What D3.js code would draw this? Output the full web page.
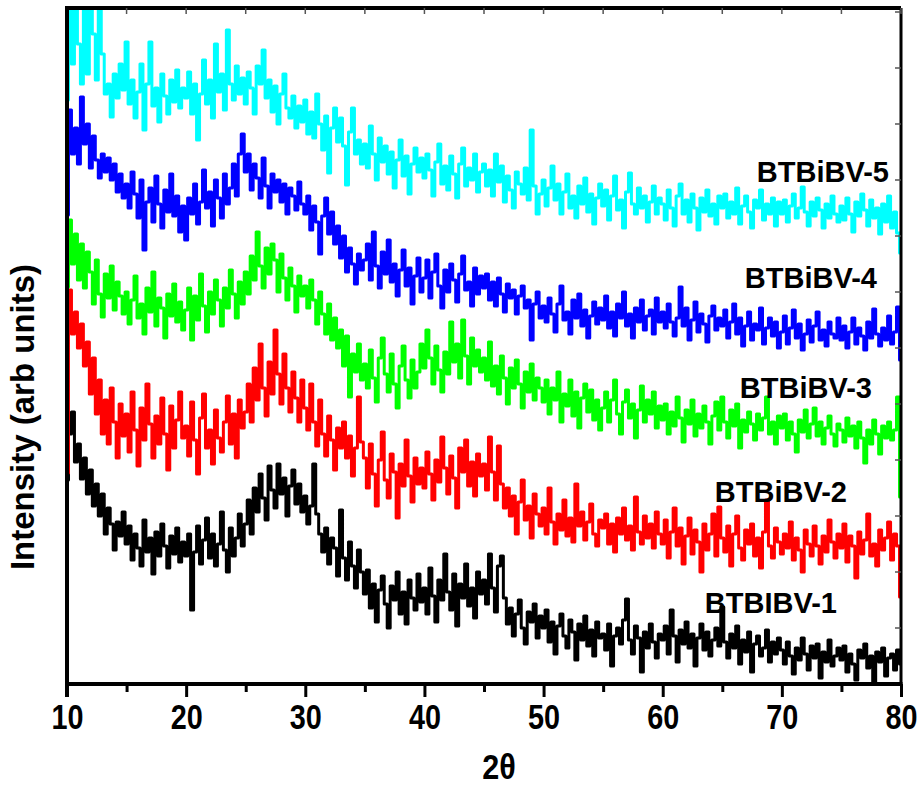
<!DOCTYPE html>
<html>
<head>
<meta charset="utf-8">
<script src="https://cdn.jsdelivr.net/npm/d3@7"></script>
<style>
    body { margin: 0; background: #fff; }
    .tick-label { font-family: "Liberation Sans", Arial, sans-serif; font-weight: bold; font-size: 36px; }
    .axis-title { font-family: "Liberation Sans", Arial, sans-serif; font-weight: bold; }
    .sample-label { font-family: "Liberation Sans", Arial, sans-serif; font-weight: bold; font-size: 29px; }
</style>
</head>
<body>
<div class="xrd-chart"></div>
<script>

// 2-theta grid: first angle and step (degrees)
var angleStart = 10;
var angleStep = 0.25;

// intensities (arb. units), one row per 5 degrees
var btbibv1 = [
    204, 250, 272, 222, 240, 205, 226, 190, 214, 178, 200, 168, 190, 150, 176, 160, 134, 162, 148, 172,
    140, 158, 124, 150, 136, 118, 164, 132, 146, 110, 152, 128, 160, 138, 116, 148, 130, 156, 122, 142,
    128, 150, 74, 132, 158, 120, 144, 166, 126, 150, 118, 140, 172, 134, 112, 156, 128, 146, 170, 138,
    160, 184, 150, 196, 172, 210, 186, 164, 218, 194, 176, 220, 190, 206, 168, 198, 214, 180, 200, 172,
    188, 160, 178, 220, 170, 150, 132, 156, 120, 146, 136, 108, 174, 126, 104, 142, 118, 96, 134, 112,
    90, 114, 76, 100, 62, 94, 108, 80, 56, 98, 84, 112, 70, 92, 60, 104, 86, 74, 110, 82,
    96, 70, 116, 88, 62, 104, 84, 130, 92, 74, 110, 58, 100, 86, 120, 78, 96, 66, 112, 90,
    104, 80, 130, 96, 72, 118, 128, 86, 60, 76, 48, 70, 84, 56, 40, 72, 62, 80, 46, 68,
    56, 74, 42, 62, 30, 58, 70, 48, 36, 64, 52, 24, 60, 44, 68, 38, 54, 28, 62, 46,
    50, 34, 60, 18, 48, 56, 40, 64, 85, 44, 30, 58, 46, 12, 52, 36, 60, 42, 26, 50,
    44, 58, 30, 74, 48, 22, 54, 40, 62, 36, 50, 18, 46, 60, 34, 52, 28, 44, 56, 38,
    77, 42, 26, 50, 36, 58, 20, 44, 32, 52, 12, 40, 48, 28, 36, 54, 22, 42, 30, 46,
    34, 20, 42, 28, 10, 36, 24, 46, 30, 14, 38, 26, 40, 6, 32, 22, 44, 18, 28, 36,
    24, 38, 12, 30, 20, 4, 34, 26, 40, 16, 28, 2, 32, 22, 36, 8, 26, 30, 14, 34,
    20
];

var btbibv2 = [
    211, 394, 350, 372, 336, 360, 318, 342, 290, 326, 270, 304, 250, 284, 240, 296, 262, 226, 280, 248,
    270, 232, 292, 254, 218, 276, 244, 300, 260, 226, 268, 240, 286, 250, 214, 278, 236, 264, 292, 246,
    258, 228, 282, 244, 210, 266, 290, 236, 254, 220, 274, 246, 232, 262, 288, 240, 270, 226, 284, 256,
    272, 300, 262, 316, 284, 340, 296, 268, 322, 290, 354, 310, 280, 330, 296, 272, 312, 286, 262, 304,
    276, 254, 300, 262, 238, 284, 250, 228, 268, 244, 214, 256, 236, 262, 226, 248, 208, 236, 287, 242,
    226, 196, 240, 210, 178, 224, 252, 204, 186, 230, 212, 166, 220, 198, 244, 208, 182, 226, 200, 216,
    196, 232, 210, 184, 224, 202, 247, 216, 190, 228, 206, 176, 236, 212, 244, 198, 222, 188, 230, 208,
    220, 194, 247, 212, 184, 238, 200, 176, 196, 168, 188, 150, 182, 204, 164, 178, 146, 190, 170, 158,
    176, 150, 196, 162, 140, 170, 154, 184, 148, 166, 142, 200, 158, 172, 144, 162, 180, 150, 138, 164,
    156, 170, 140, 160, 132, 166, 150, 176, 144, 158, 134, 187, 152, 140, 168, 146, 160, 136, 172, 150,
    140, 164, 126, 152, 176, 138, 156, 120, 148, 166, 130, 154, 142, 112, 160, 134, 150, 170, 128, 177,
    146, 132, 158, 118, 150, 168, 136, 124, 154, 140, 160, 128, 146, 116, 152, 184, 138, 126, 156, 142,
    130, 150, 136, 162, 124, 146, 134, 112, 154, 140, 128, 158, 138, 120, 148, 132, 164, 142, 126, 150,
    136, 160, 122, 148, 138, 106, 152, 130, 144, 170, 128, 140, 118, 154, 134, 146, 162, 124, 150, 138,
    87
];

var btbibv3 = [
    397, 464, 420, 450, 404, 440, 396, 432, 412, 380, 424, 390, 367, 410, 386, 418, 374, 402, 388, 370,
    392, 360, 384, 408, 366, 380, 350, 396, 372, 412, 358, 386, 376, 346, 390, 368, 400, 362, 382, 354,
    374, 396, 344, 388, 364, 410, 378, 352, 392, 370, 404, 384, 358, 396, 376, 414, 390, 366, 402, 380,
    412, 390, 428, 404, 452, 418, 396, 436, 410, 440, 424, 392, 430, 406, 384, 416, 398, 372, 408, 388,
    398, 376, 404, 384, 360, 392, 370, 350, 380, 344, 366, 336, 354, 318, 348, 287, 330, 312, 340, 304,
    320, 296, 334, 306, 282, 326, 346, 310, 292, 330, 300, 276, 318, 338, 304, 286, 324, 296, 312, 340,
    316, 354, 326, 300, 338, 314, 292, 332, 310, 362, 322, 340, 306, 364, 328, 300, 346, 318, 334, 312,
    326, 304, 342, 298, 318, 290, 328, 306, 280, 316, 296, 324, 300, 276, 312, 292, 320, 284, 306, 296,
    282, 304, 270, 296, 284, 312, 262, 290, 278, 304, 268, 292, 256, 286, 300, 272, 294, 264, 284, 254,
    276, 292, 262, 284, 304, 270, 250, 282, 294, 266, 280, 246, 274, 298, 262, 284, 270, 292, 256, 278,
    264, 280, 250, 272, 258, 287, 266, 242, 274, 260, 284, 248, 270, 256, 278, 262, 240, 268, 282, 254,
    287, 262, 246, 274, 258, 280, 236, 264, 252, 272, 260, 244, 270, 254, 266, 287, 250, 262, 240, 268,
    256, 270, 244, 262, 250, 232, 264, 252, 274, 246, 260, 276, 248, 262, 240, 256, 268, 250, 238, 260,
    254, 242, 266, 248, 258, 236, 262, 246, 221, 254, 240, 264, 250, 230, 258, 246, 262, 244, 254, 287,
    187
];

var btbibv4 = [
    469, 574, 530, 556, 520, 587, 540, 560, 516, 548, 524, 506, 530, 512, 526, 504, 520, 492, 510, 486,
    500, 476, 512, 490, 466, 504, 434, 482, 496, 462, 508, 480, 456, 494, 472, 510, 468, 488, 452, 478,
    444, 486, 470, 500, 460, 482, 514, 476, 492, 458, 504, 486, 466, 510, 480, 496, 520, 488, 530, 550,
    512, 530, 494, 520, 506, 486, 526, 498, 476, 510, 492, 504, 482, 500, 470, 496, 488, 474, 502, 480,
    470, 488, 454, 478, 462, 430, 468, 486, 450, 472, 440, 458, 426, 448, 412, 436, 420, 400, 430, 414,
    424, 440, 404, 452, 418, 396, 432, 410, 444, 402, 420, 388, 414, 434, 398, 416, 380, 408, 426, 392,
    406, 424, 386, 412, 430, 398, 376, 414, 392, 420, 404, 382, 410, 428, 394, 402, 378, 416, 390, 408,
    396, 410, 384, 402, 378, 406, 390, 372, 400, 386, 394, 370, 388, 398, 376, 384, 344, 380, 392, 366,
    378, 362, 386, 370, 352, 380, 398, 364, 372, 350, 384, 366, 390, 358, 374, 346, 368, 382, 360, 376,
    364, 388, 356, 372, 348, 380, 366, 392, 358, 370, 346, 376, 362, 384, 354, 368, 374, 350, 386, 362,
    372, 356, 380, 362, 348, 366, 397, 358, 376, 344, 364, 382, 352, 370, 360, 342, 368, 378, 354, 366,
    358, 374, 346, 362, 380, 350, 366, 338, 358, 372, 344, 360, 354, 376, 340, 356, 366, 348, 362, 336,
    352, 368, 340, 356, 374, 346, 360, 334, 350, 364, 342, 358, 372, 344, 354, 338, 362, 350, 346, 366,
    344, 358, 336, 352, 366, 340, 356, 348, 334, 362, 346, 375, 350, 338, 356, 344, 368, 340, 352, 377,
    324
];

var btbibv5 = [
    584, 676, 620, 676, 640, 600, 676, 610, 676, 650, 604, 676, 630, 590, 600, 567, 610, 586, 620, 594,
    642, 580, 604, 566, 592, 620, 554, 600, 642, 578, 596, 562, 610, 588, 570, 604, 582, 614, 576, 596,
    586, 612, 570, 600, 544, 590, 624, 580, 604, 566, 640, 592, 610, 574, 654, 600, 584, 618, 590, 606,
    580, 612, 596, 570, 618, 600, 634, 586, 604, 572, 598, 560, 590, 610, 576, 566, 588, 556, 578, 562,
    584, 550, 572, 546, 590, 560, 534, 568, 511, 556, 576, 542, 566, 538, 499, 552, 576, 530, 544, 520,
    540, 516, 558, 530, 504, 546, 522, 538, 510, 532, 496, 524, 544, 508, 528, 490, 520, 536, 512, 526,
    506, 530, 514, 488, 522, 540, 500, 518, 494, 528, 510, 486, 520, 536, 498, 516, 504, 530, 492, 512,
    520, 498, 514, 488, 530, 502, 518, 482, 508, 494, 476, 512, 500, 490, 516, 484, 554, 498, 470, 490,
    504, 478, 496, 518, 484, 500, 470, 492, 510, 476, 488, 466, 498, 480, 506, 472, 490, 460, 486, 500,
    478, 494, 464, 488, 508, 474, 484, 456, 492, 511, 480, 470, 496, 476, 488, 462, 482, 498, 470, 486,
    480, 464, 494, 476, 458, 488, 500, 470, 484, 462, 490, 476, 454, 486, 472, 494, 468, 480, 460, 488,
    476, 490, 466, 482, 470, 496, 460, 478, 488, 472, 456, 484, 476, 494, 464, 480, 470, 486, 458, 482,
    470, 484, 462, 478, 490, 466, 476, 497, 472, 458, 482, 468, 486, 474, 456, 480, 466, 488, 470, 462,
    478, 464, 486, 470, 452, 482, 468, 490, 474, 458, 484, 466, 476, 450, 480, 462, 488, 456, 472, 451,
    431
];

var sampleNames = ["BTBIBV-1", "BTBiBV-2", "BTBiBV-3", "BTBiBV-4", "BTBiBV-5"];
var sampleColors = ["#000000", "#ff0000", "#00ff00", "#0000ff", "#00ffff"];
var xMajorTicks = [10, 20, 30, 40, 50, 60, 70, 80];
var xMinorTicks = [15, 25, 35, 45, 55, 65, 75];


/*
 * XrdChart - stacked XRD patterns
 */

XrdChart = function(_parentElement, _series){
    this.parentElement = _parentElement;
    this.series = _series;

    this.initVis();
}

XrdChart.prototype.initVis = function(){
    var vis = this;

    vis.margin = { top: 8, right: 21, bottom: 103, left: 67 };
    vis.width = 922 - vis.margin.left - vis.margin.right;
    vis.height = 787 - vis.margin.top - vis.margin.bottom;

    vis.svg = d3.select("." + vis.parentElement).append("svg")
        .attr("width", 922)
        .attr("height", 787)
        .append("g")
        .attr("transform", "translate(" + vis.margin.left + "," + vis.margin.top + ")");

    vis.x = d3.scaleLinear()
        .domain([10, 80])
        .range([0, vis.width]);

    vis.y = d3.scaleLinear()
        .domain([0, 676])
        .range([vis.height, 0]);

    vis.svg.append("clipPath")
        .attr("id", "plot-clip")
        .append("rect")
        .attr("width", vis.width)
        .attr("height", vis.height);

    vis.updateVis();
}

XrdChart.prototype.updateVis = function(){
    var vis = this;

    // step curve gives the flat-topped spikes of the raw scan
    var line = d3.line()
        .curve(d3.curveStep)
        .x(function(d, i) { return vis.x(angleStart + i * angleStep); })
        .y(function(d) { return vis.y(d); });

    vis.svg.append("g")
        .attr("clip-path", "url(#plot-clip)")
        .selectAll(".pattern")
        .data(vis.series)
        .enter()
        .append("path")
        .attr("class", "pattern")
        .attr("fill", "none")
        .attr("stroke", function(d) { return d.color; })
        .attr("stroke-width", 3)
        .attr("stroke-linejoin", "round")
        .attr("d", function(d) { return line(d.values); });

    // sample labels
    var labelPos = [[837, 613], [847, 502], [872, 398], [877, 288], [889, 182]];
    vis.svg.selectAll(".sample-label")
        .data(vis.series)
        .enter()
        .append("text")
        .attr("class", "sample-label")
        .attr("text-anchor", "end")
        .attr("x", function(d, i) { return labelPos[i][0] - vis.margin.left; })
        .attr("y", function(d, i) { return labelPos[i][1] - vis.margin.top; })
        .text(function(d) { return d.name; });

    // frame
    vis.svg.append("line").attr("x1", 0).attr("x2", vis.width).attr("y1", 0).attr("y2", 0)
        .attr("stroke", "#000").attr("stroke-width", 4);
    vis.svg.append("line").attr("x1", vis.width).attr("x2", vis.width).attr("y1", 0).attr("y2", vis.height)
        .attr("stroke", "#000").attr("stroke-width", 3);

    // inner ticks on top and right
    vis.svg.selectAll(".top-tick")
        .data(xMajorTicks.concat(xMinorTicks))
        .enter()
        .append("line")
        .attr("x1", function(d) { return vis.x(d); })
        .attr("x2", function(d) { return vis.x(d); })
        .attr("y1", 0).attr("y2", 6)
        .attr("stroke", "#555").attr("stroke-width", 1.5);

    vis.svg.selectAll(".right-tick")
        .data(d3.range(56, 676, 56))
        .enter()
        .append("line")
        .attr("x1", vis.width - 6).attr("x2", vis.width)
        .attr("y1", function(d) { return vis.y(d); })
        .attr("y2", function(d) { return vis.y(d); })
        .attr("stroke", "#555").attr("stroke-width", 1.5);

    // bottom axis
    var xAxis = d3.axisBottom(vis.x)
        .tickValues(xMajorTicks)
        .tickSize(13)
        .tickPadding(6)
        .tickFormat(d3.format("d"));

    var xAxisGroup = vis.svg.append("g")
        .attr("transform", "translate(0," + vis.height + ")")
        .call(xAxis);
    xAxisGroup.select(".domain").attr("stroke-width", 4).attr("d", "M-2,0H" + (vis.width + 1.5));
    xAxisGroup.selectAll(".tick line").attr("stroke-width", 3);
    xAxisGroup.selectAll(".tick text")
        .attr("class", "tick-label")
        .attr("fill", "#000")
        .attr("transform", "translate(0,19) scale(0.8,1) translate(0,-19)");

    var xMinor = vis.svg.append("g")
        .attr("transform", "translate(0," + vis.height + ")")
        .call(d3.axisBottom(vis.x).tickValues(xMinorTicks).tickSize(8).tickFormat(""));
    xMinor.select(".domain").remove();
    xMinor.selectAll(".tick line").attr("stroke-width", 3);

    // left axis line (no labels)
    vis.svg.append("line").attr("x1", 0).attr("x2", 0).attr("y1", -2).attr("y2", vis.height + 13)
        .attr("stroke", "#000").attr("stroke-width", 4);

    // axis titles
    vis.svg.append("text")
        .attr("class", "axis-title")
        .attr("text-anchor", "middle")
        .attr("transform", "translate(" + (499 - vis.margin.left) + "," + (779 - vis.margin.top) + ") scale(0.85,1)")
        .style("font-size", "36px")
        .text("2\u03b8");

    vis.svg.append("text")
        .attr("class", "axis-title")
        .attr("text-anchor", "middle")
        .attr("transform", "translate(" + (34 - vis.margin.left) + "," + (417 - vis.margin.top) + ") rotate(-90)")
        .style("font-size", "33px")
        .text("Intensity (arb units)");
}

var series = [btbibv1, btbibv2, btbibv3, btbibv4, btbibv5].map(function(values, i) {
    return { name: sampleNames[i], color: sampleColors[i], values: values };
});

var xrdChart = new XrdChart("xrd-chart", series);

</script>
</body>
</html>
